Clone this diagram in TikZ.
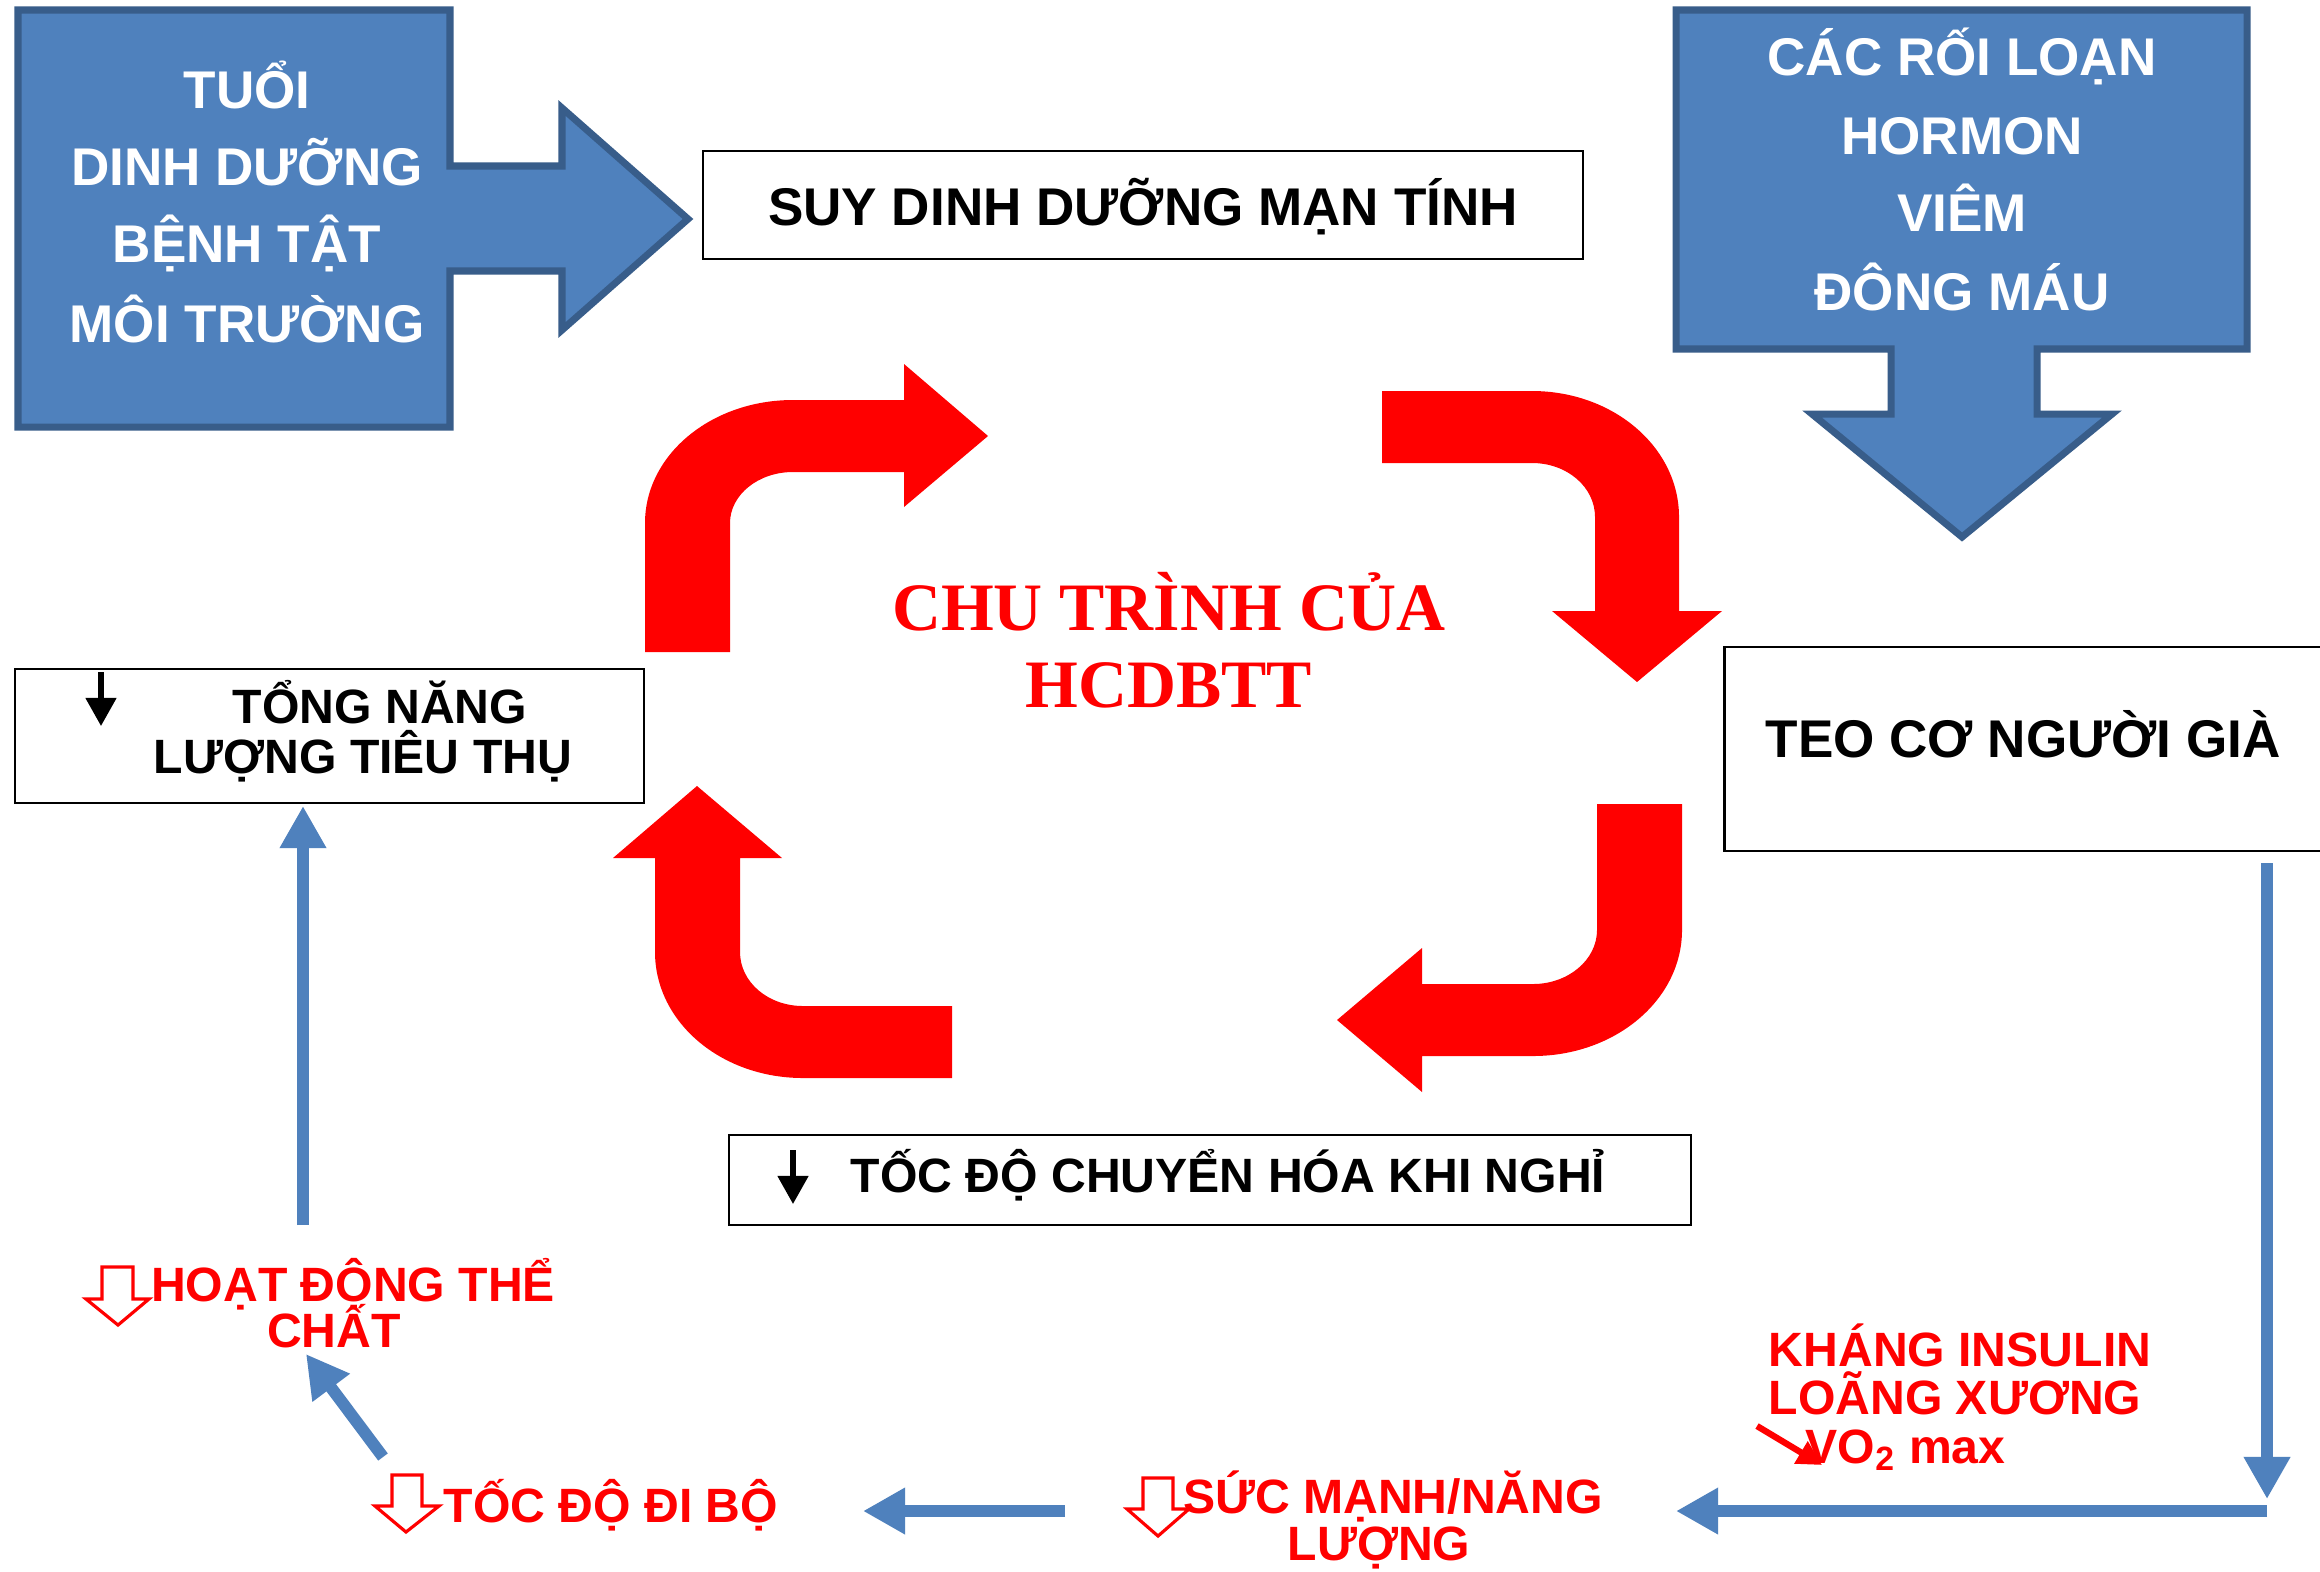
\documentclass[tikz,border=0pt]{standalone}
\usepackage{fontspec}
\setmainfont{Liberation Sans}
\newfontfamily\titlefont{Liberation Serif}
\usetikzlibrary{arrows.meta}
\definecolor{bfill}{HTML}{4F81BD}
\definecolor{bline}{HTML}{385D8A}
\definecolor{rred}{HTML}{FF0000}
\tikzset{
  blockarrow/.style={fill=bfill, draw=bline, line width=2pt, line join=miter},
  bigwhite/.style={font=\bfseries\fontsize{15.1}{18}\selectfont, text=white, anchor=base, inner sep=0pt},
  bigblack/.style={font=\bfseries\fontsize{15.1}{18}\selectfont, text=black, anchor=base, inner sep=0pt},
  smallblack/.style={font=\bfseries\fontsize{13.7}{16}\selectfont, text=black, anchor=base, inner sep=0pt},
  redlabel/.style={font=\bfseries\fontsize{13.7}{16}\selectfont, text=rred, anchor=base, inner sep=0pt},
  titletext/.style={font=\titlefont\bfseries\fontsize{19.3}{23}\selectfont, text=rred, anchor=base, inner sep=0pt},
  plainbox/.style={draw=black, line width=0.7pt, inner sep=0pt},
  bluecon/.style={draw=bfill, line width=3.4pt, -{Triangle[length=12pt,width=12.5pt]}},
  blackdown/.style={draw=black, line width=1.5pt, -{Triangle[length=8pt,width=8.5pt]}},
  hollowdown/.style={draw=rred, line width=0.9pt, fill=white, line join=miter},
  cyclearrow/.style={fill=rred, draw=none}
}
\begin{document}
\begin{tikzpicture}[x=0.1mm, y=-0.1mm]
\useasboundingbox (0,0) rectangle (2320,1571);
\fill[white] (0,0) rectangle (2320,1571);

% ---- left blue block arrow ----
\path[blockarrow] (18,10) -- (450,10) -- (450,166) -- (562,166) -- (562,108) -- (688,219)
  -- (562,330) -- (562,271) -- (450,271) -- (450,427) -- (18,427) -- cycle;
\node[bigwhite] (lb1) at (247,108) {TU\char"1ED4 I};
\node[bigwhite] (lb2) at (247,185) {DINH DƯỠNG};
\node[bigwhite] (lb3) at (247,262) {BỆNH TẬT};
\node[bigwhite] (lb4) at (247,342) {MÔI TRƯỜNG};

% ---- SUY DINH DUONG box ----
\node[plainbox, minimum width=88mm, minimum height=10.8mm] (suybox) at (1143,205) {};
\node[bigblack] (suytext) at (1143,225) {SUY DINH DƯỠNG MẠN TÍNH};

% ---- right blue block arrow ----
\path[blockarrow] (1676,10) -- (2247,10) -- (2247,349) -- (2037,349) -- (2037,414) -- (2112,414)
  -- (1962,537) -- (1812,414) -- (1891,414) -- (1891,349) -- (1676,349) -- cycle;
\node[bigwhite] (rb1) at (1962,75) {CÁC RỐI LOẠN};
\node[bigwhite] (rb2) at (1962,154) {HORMON};
\node[bigwhite] (rb3) at (1962,231) {VIÊM};
\node[bigwhite] (rb4) at (1962,310) {ĐÔNG MÁU};

% ---- red cycle arrows ----
\path[cyclearrow] (645,652) -- (645,523) .. controls (645,455) and (711,400) .. (793,400)
  -- (904,400) -- (904,364) -- (988,436) -- (904,507) -- (904,472) -- (793,472)
  .. controls (758,472) and (730,495) .. (730,523) -- (730,652) -- cycle;
\path[cyclearrow] (1382,391) -- (1532,391) .. controls (1613,391) and (1679,447) .. (1679,517)
  -- (1679,611) -- (1722,611) -- (1637,682) -- (1552,611) -- (1595,611) -- (1595,517)
  .. controls (1595,487) and (1567,463) .. (1532,463) -- (1382,463) -- cycle;
\path[cyclearrow] (1597,804) -- (1682,804) -- (1682,930) .. controls (1682,1000) and (1615,1056) .. (1533,1056)
  -- (1422,1056) -- (1422,1092) -- (1337,1020) -- (1422,948) -- (1422,984) -- (1533,984)
  .. controls (1568,984) and (1597,960) .. (1597,930) -- cycle;
\path[cyclearrow] (697,786) -- (782,858) -- (740,858) -- (740,952) .. controls (740,982) and (768,1006) .. (803,1006)
  -- (952,1006) -- (952,1078) -- (803,1078) .. controls (721,1078) and (655,1022) .. (655,952)
  -- (655,858) -- (613,858) -- cycle;

% ---- title ----
\node[titletext] (title1) at (1169,630) {CHU TRÌNH CỦA};
\node[titletext] (title2) at (1169,707) {HCDBTT};

% ---- TONG NANG LUONG box ----
\node[plainbox, minimum width=62.9mm, minimum height=13.4mm] (tongbox) at (329.5,736) {};
\node[smallblack] (tong1) at (380,723) {T\char"1ED4 NG NĂNG};
\node[smallblack] (tong2) at (363,773) {LƯỢNG TIÊU THỤ};
\coordinate (tongarrA) at (101,672);
\coordinate (tongarrB) at (101,726);
\draw[blackdown] (tongarrA) -- (tongarrB);

% ---- TEO CO box ----
\node[plainbox, line width=0.8pt, minimum width=61.5mm, minimum height=20.4mm] (teobox) at (2032,749) {};
\node[bigblack] (teotext) at (2023,757) {TEO CƠ NGƯỜI GIÀ};

% ---- TOC DO CHUYEN HOA box ----
\node[plainbox, minimum width=96.2mm, minimum height=9mm] (tocbox) at (1210,1180) {};
\node[smallblack] (toctext) at (1228,1192) {TỐC ĐỘ CHUYỂN HÓA KHI NGHỈ};
\coordinate (tocarrA) at (793,1150);
\coordinate (tocarrB) at (793,1204);
\draw[blackdown] (tocarrA) -- (tocarrB);

% ---- red labels ----
\node[redlabel] (hoat1) at (353,1301) {HOẠT ĐỘNG THỂ};
\node[redlabel] (hoat2) at (334,1347) {CHẤT};
\node[redlabel] (dibo) at (611,1522) {TỐC ĐỘ ĐI BỘ};
\node[redlabel] (suc1) at (1393,1513) {SỨC MẠNH/NĂNG};
\node[redlabel] (suc2) at (1379,1560) {LƯỢNG};
\node[redlabel, anchor=base west] (khang1) at (1768,1366) {KHÁNG INSULIN};
\node[redlabel, anchor=base west] (khang2) at (1768,1414) {LOÃNG XƯƠNG};
\node[redlabel, anchor=base west] (khang3) at (1805,1463) {VO\textsubscript{2} max};
\coordinate (vodA) at (1757,1426);
\coordinate (vodB) at (1822,1465);
\draw[draw=rred, line width=1.8pt, -{Triangle[length=7pt,width=7pt]}] (vodA) -- (vodB);

% hollow down arrows
\path[hollowdown] (102,1267) -- (133,1267) -- (133,1299) -- (149,1299) -- (118,1325) -- (86,1299) -- (102,1299) -- cycle;
\path[hollowdown] (392,1475) -- (422,1475) -- (422,1506) -- (439,1506) -- (406,1532) -- (375,1506) -- (392,1506) -- cycle;
\path[hollowdown] (1143,1478) -- (1173,1478) -- (1173,1509) -- (1189,1509) -- (1158,1536) -- (1127,1509) -- (1143,1509) -- cycle;

% ---- blue connectors ----
\coordinate (teoout) at (2267,863);
\coordinate (cornerTip) at (2267,1499);
\coordinate (cornerStart) at (2267,1511);
\coordinate (sucIn) at (1676,1511);
\coordinate (sucOut) at (1065,1511);
\coordinate (diboIn) at (863,1511);
\coordinate (diboOut) at (383,1457);
\coordinate (hoatIn) at (306,1354);
\coordinate (hoatOut) at (303,1225);
\coordinate (tongIn) at (303,806);
\draw[bluecon] (teoout) -- (cornerTip);
\draw[bluecon] (cornerStart) -- (sucIn);
\draw[bluecon] (sucOut) -- (diboIn);
\draw[bluecon] (diboOut) -- (hoatIn);
\draw[bluecon] (hoatOut) -- (tongIn);
\end{tikzpicture}
\end{document}
